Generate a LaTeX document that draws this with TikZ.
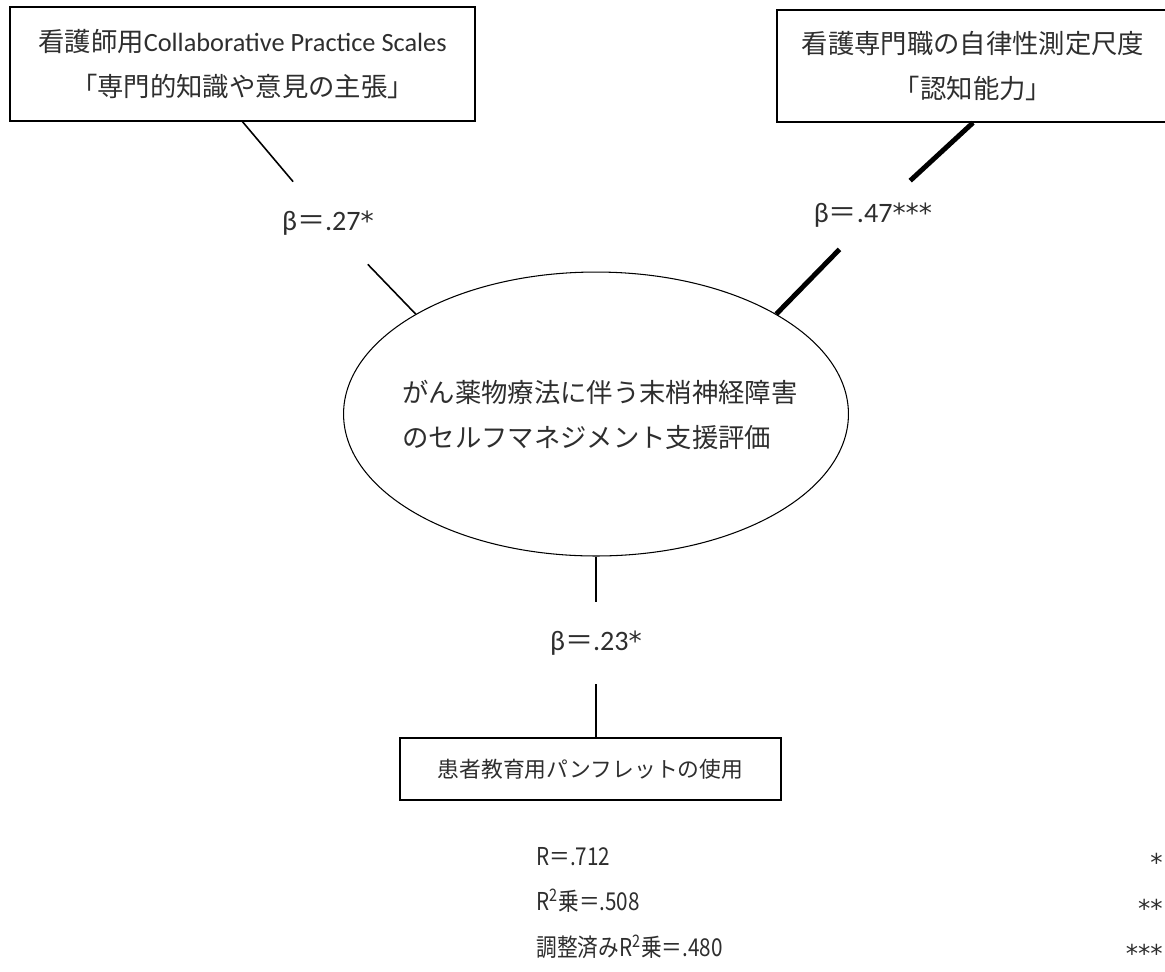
\documentclass[tikz,border=0pt]{standalone}
\usepackage{fontspec}
\setmainfont{Carlito}
\newfontfamily\jpfont{Noto Sans CJK JP}
\newfontfamily\jpnarrow{Noto Sans CJK JP}[FakeStretch=0.84]
\newfontfamily\starfont{DejaVu Sans}
\usetikzlibrary{shapes.geometric}

\begin{document}
\begin{tikzpicture}[x=0.02cm,y=-0.02cm, text=black!82,
    box/.style={draw=black, line width=0.8pt, inner sep=0pt, align=center,
      font=\fontsize{15}{25.6}\selectfont},
    coef/.style={inner sep=0pt, minimum width=1.4cm,
      font=\fontsize{16}{18}\selectfont},
    link/.style={line width=0.9pt},
    strong/.style={line width=2.8pt}]
  \useasboundingbox (0,0) rectangle (1165,971);

  % predictors
  \node[box, minimum width=9.3cm, minimum height=2.28cm] (cps) at (242.5,64)
    {{\jpfont 看護師用}Collaborative Practice Scales\\{\jpfont 「専門的知識や意見の主張」}};
  \node[box, minimum width=7.84cm, minimum height=2.24cm] (auto) at (973,66)
    {\jpfont 看護専門職の自律性測定尺度\\\jpfont 「認知能力」};

  % outcome
  \node[draw=black, ellipse, line width=0.6pt, inner sep=0pt,
    minimum width=10.1cm, minimum height=5.68cm] (eval) at (596,414) {};
  \node[align=left, inner sep=0pt, font=\jpfont\fontsize{15}{25.6}\selectfont] (evaltext) at (600,415)
    {がん薬物療法に伴う末梢神経障害\\のセルフマネジメント支援評価};

  \node[box, minimum width=7.62cm, minimum height=1.24cm,
    font=\jpfont\fontsize{12.4}{16}\selectfont] (pamph) at (590.5,769)
    {患者教育用パンフレットの使用};

  % coefficients
  \node[coef, minimum height=1.64cm] (b1) at (328,223) {β{\jpfont ＝}.27{\starfont\fontsize{15}{18}\selectfont*}};
  \node[coef, minimum height=1.36cm] (b2) at (873,215) {β{\jpfont ＝}.47{\starfont\fontsize{15}{18}\selectfont***}};
  \node[coef, minimum height=1.64cm] (b3) at (596,643) {β{\jpfont ＝}.23{\starfont\fontsize{15}{18}\selectfont*}};

  \draw[link] (cps.south) -- (b1) -- (eval.151);
  \draw[strong] (auto.south) -- (b2) -- (eval.29);
  \draw[link] (eval.south) -- (b3) -- (b3 |- pamph.north);

  % model fit
  \node[anchor=west, align=left, inner sep=0pt,
    font=\jpnarrow\fontsize{14}{25.9}\selectfont] (fit) at (536,903)
    {R＝.712\\R\textsuperscript{2}乗＝.508\\調整済みR\textsuperscript{2}乗＝.480};
  \node[anchor=east, align=right, inner sep=0pt,
    font=\starfont\fontsize{14}{25.9}\selectfont] (stars) at (1163,908)
    {*\\**\\***};
\end{tikzpicture}
\end{document}
